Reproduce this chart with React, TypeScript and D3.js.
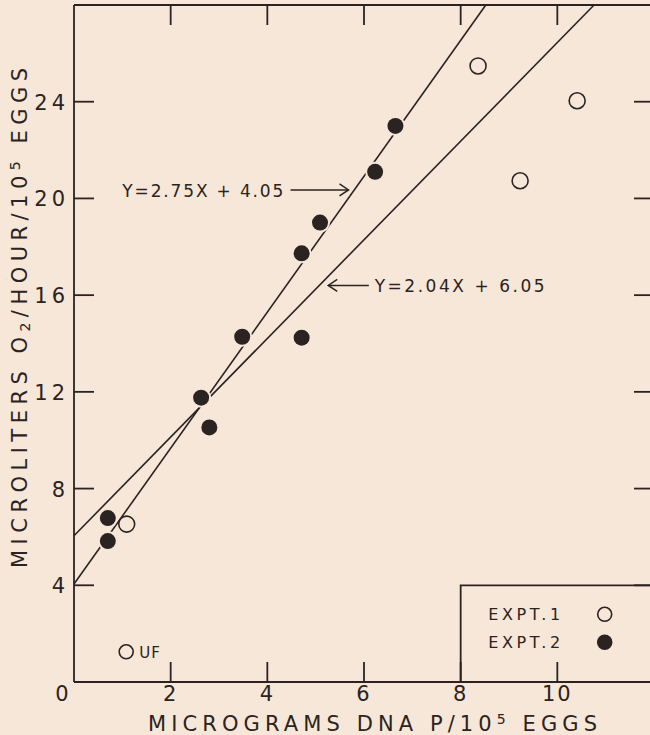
import { scaleLinear, line } from 'd3'

// Expt. 1 (open circles)
const expt1X = [1.09, 8.36, 9.23, 10.41]
const expt1Y = [6.53, 25.48, 20.73, 24.04]
// unfertilized point (open circle, labelled UF)
const ufX = [1.08]
const ufY = [1.25]
// Expt. 2 (filled circles)
const expt2X = [0.7, 0.7, 2.63, 2.8, 3.48, 4.71, 4.71, 5.09, 6.23, 6.65]
const expt2Y = [6.78, 5.83, 11.76, 10.53, 14.28, 14.24, 17.73, 19.0, 21.1, 23.0]

// fitted lines Y = aX + b, as drawn: from x = 0 up to where they leave the top
const fitIntercepts = [4.05, 6.05]
const fitTopX = [8.52, 10.76]
const fitLabels = ['Y=2.75X + 4.05', 'Y=2.04X + 6.05']

const xTicks = [2, 4, 6, 8, 10]
const xTickLabels = ['2', '4', '6', '8', '10']
const yTicks = [4, 8, 12, 16, 20, 24]
const yTickLabels = ['4', '8', '12', '16', '20', '24']

const legendLabels = ['EXPT.1', 'EXPT.2']

const App = () => {
  let width = 650
  let height = 735
  let bg = '#f6e7d8'
  let ink = '#2b2321'
  let font = '"DejaVu Sans", sans-serif'

  let x = scaleLinear().domain([0, 12]).range([74, 654])
  let y = scaleLinear().domain([0, 28]).range([682, 5])

  let fitPath = (i: number) =>
    line<[number, number]>()
      .x(d => x(d[0]))
      .y(d => y(d[1]))([[0, fitIntercepts[i]], [fitTopX[i], 28]])

  let tick = 20
  let r = 8

  return (
    <svg width={width} height={height} style={{ position: 'absolute', left: 0, top: 0 }}>
      <rect x={0} y={0} width={width} height={height} fill={bg} />

      {/* frame */}
      <g stroke={ink} strokeWidth={1.8} fill="none">
        <line x1={x(0)} y1={y(28)} x2={x(0)} y2={y(0)} />
        <line x1={x(0)} y1={y(0)} x2={width} y2={y(0)} />
        <line x1={x(0)} y1={y(28)} x2={width} y2={y(28)} />
        {xTicks.map(t => (
          <g key={'xt' + t}>
            <line x1={x(t)} x2={x(t)} y1={y(0)} y2={y(0) - tick} />
            <line x1={x(t)} x2={x(t)} y1={y(28)} y2={y(28) + tick} />
          </g>
        ))}
        {yTicks.map(t => (
          <g key={'yt' + t}>
            <line x1={x(0)} x2={x(0) + tick} y1={y(t)} y2={y(t)} />
            <line x1={x(12)} x2={x(12) - tick} y1={y(t)} y2={y(t)} />
          </g>
        ))}
        {/* legend box */}
        <path d={`M${x(8)},${y(0)} V${y(4)} H${width}`} />
      </g>

      {/* tick labels */}
      <g fill={ink} fontFamily={font} fontSize={21}>
        {xTicks.map((t, i) => (
          <text key={'xl' + t} x={x(t)} y={y(0) + 19} textAnchor="middle" letterSpacing={2}>
            {xTickLabels[i]}
          </text>
        ))}
        <text x={x(0) - 12} y={y(0) + 19} textAnchor="middle">0</text>
        {yTicks.map((t, i) => (
          <text key={'yl' + t} x={x(0) - 5} y={y(t) + 8} textAnchor="end" letterSpacing={4}>
            {yTickLabels[i]}
          </text>
        ))}
      </g>

      {/* axis titles */}
      <g fill={ink} fontFamily={font} fontSize={21}>
        <text x={148} y={731} textLength={449} lengthAdjust="spacing">
          MICROGRAMS DNA P/10
          <tspan fontSize={14} dy={-7}>5</tspan>
          <tspan dy={7}> EGGS</tspan>
        </text>
        <text
          transform={`translate(27,${568}) rotate(-90)`}
          x={0}
          y={0}
          textLength={500}
          lengthAdjust="spacing"
        >
          MICROLITERS O
          <tspan fontSize={14} dy={3}>2</tspan>
          <tspan dy={-3}>/HOUR/10</tspan>
          <tspan fontSize={14} dy={-7}>5</tspan>
          <tspan dy={7}> EGGS</tspan>
        </text>
      </g>

      {/* fitted lines */}
      <g stroke={ink} strokeWidth={1.6} fill="none">
        {fitIntercepts.map((_, i) => (
          <path key={'fit' + i} d={fitPath(i) || ''} />
        ))}
      </g>

      {/* annotations */}
      <g fill={ink} fontFamily={font} fontSize={17}>
        <text x={x(1.0)} y={y(20.35) + 7} textLength={161} lengthAdjust="spacing">
          {fitLabels[0]}
        </text>
        <text x={x(6.22)} y={y(16.4) + 7} textLength={170} lengthAdjust="spacing">
          {fitLabels[1]}
        </text>
      </g>
      <g stroke={ink} strokeWidth={1.5} fill="none">
        <line x1={x(4.48)} x2={x(5.68)} y1={y(20.35)} y2={y(20.35)} />
        <path d={`M${x(5.68) - 9},${y(20.35) - 6} L${x(5.68)},${y(20.35)} L${x(5.68) - 9},${y(20.35) + 6}`} />
        <line x1={x(5.26)} x2={x(6.1)} y1={y(16.4)} y2={y(16.4)} />
        <path d={`M${x(5.26) + 9},${y(16.4) - 6} L${x(5.26)},${y(16.4)} L${x(5.26) + 9},${y(16.4) + 6}`} />
      </g>

      {/* points */}
      <g>
        {expt2X.map((v, i) => (
          <circle key={'e2' + i} cx={x(v)} cy={y(expt2Y[i])} r={r + 2} fill={bg} />
        ))}
        {expt2X.map((v, i) => (
          <circle key={'e2f' + i} cx={x(v)} cy={y(expt2Y[i])} r={r} fill={ink} />
        ))}
        {expt1X.map((v, i) => (
          <circle
            key={'e1' + i}
            cx={x(v)}
            cy={y(expt1Y[i])}
            r={r}
            fill={bg}
            stroke={ink}
            strokeWidth={1.6}
          />
        ))}
        {ufX.map((v, i) => (
          <g key={'uf' + i}>
            <circle cx={x(v)} cy={y(ufY[i])} r={7} fill="none" stroke={ink} strokeWidth={1.6} />
            <text x={x(v) + 13} y={y(ufY[i]) + 6} fill={ink} fontFamily={font} fontSize={15} letterSpacing={1}>
              UF
            </text>
          </g>
        ))}
      </g>

      {/* legend */}
      <g fill={ink} fontFamily={font} fontSize={16}>
        {legendLabels.map((l, i) => (
          <g key={l}>
            <text x={x(8.57)} y={y(2.8) + 6 + i * 28} textLength={72} lengthAdjust="spacing">
              {l}
            </text>
            <circle
              cx={x(10.98)}
              cy={y(2.8) + i * 28}
              r={7}
              fill={i === 0 ? 'none' : ink}
              stroke={ink}
              strokeWidth={1.6}
            />
          </g>
        ))}
      </g>
    </svg>
  )
}

export default App
